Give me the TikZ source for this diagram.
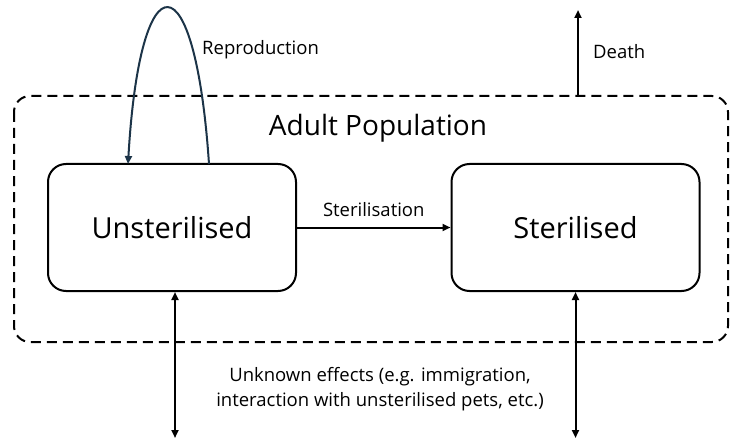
\documentclass[tikz,border=0pt]{standalone}
\usepackage{fontspec}
\setmainfont{Open Sans}
\usetikzlibrary{arrows.meta}
\begin{document}
\begin{tikzpicture}[x=1pt,y=-1pt,
  state/.style={draw,line width=2pt,rounded corners=18pt,minimum width=248pt,minimum height=127pt,font=\fontsize{29}{33}\selectfont,inner sep=0pt},
  flow/.style={line width=2pt,-{Triangle[length=8pt,width=7pt]}},
  both/.style={line width=2pt,{Triangle[length=8pt,width=7pt]}-{Triangle[length=8pt,width=7pt]}},
  lbl/.style={font=\fontsize{18.5}{22}\selectfont,inner sep=0pt}]
\useasboundingbox (0,0) rectangle (731,441);
\draw[line width=2pt,dash pattern=on 10pt off 6pt,rounded corners=16pt] (14,96) rectangle (728,342);
\node[font=\fontsize{28}{32}\selectfont] (adult) at (378,128) {Adult Population};
\node[state] (u) at (172,227.5) {Unsterilised};
\node[state] (s) at (575.5,227.5) {Sterilised};
\draw[flow] (u.east) -- node[lbl,above=10pt] (st) {Sterilisation} (s.west);
\coordinate (rs) at (209,164);
\coordinate (re) at (128,164);
\draw[line width=2pt,color={rgb,255:red,28;green,52;blue,72},-{Triangle[length=8pt,width=7pt]}] (rs) .. controls (195,-44) and (140,-44) .. (re);
\node[lbl,anchor=west] (rep) at (202,50) {Reproduction};
\coordinate (d0) at (578,97);
\coordinate (d1) at (578,10);
\draw[flow] (d0) -- (d1);
\node[lbl,anchor=west] (death) at (593,52) {Death};
\coordinate (ub) at (175,438);
\coordinate (sb) at (575.5,438);
\draw[both] (ub) -- (ub |- u.south);
\draw[both] (sb) -- (sb |- s.south);
\node[lbl,align=center,font=\fontsize{18.5}{25}\selectfont] (unk) at (380,389) {Unknown effects (e.g. immigration,\\interaction with unsterilised pets, etc.)};
\end{tikzpicture}
\end{document}
